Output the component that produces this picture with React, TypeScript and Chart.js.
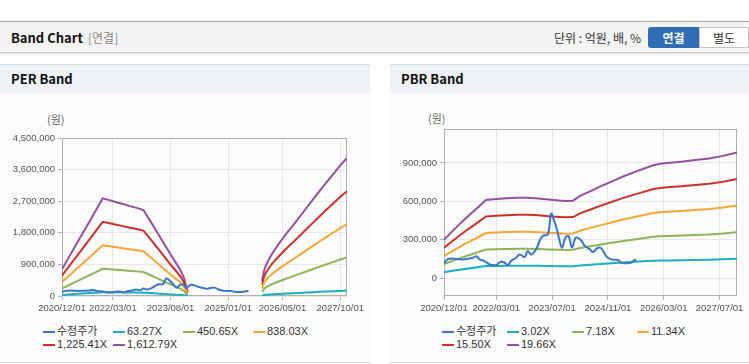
import React, { useEffect, useRef } from "react";
import { Chart, registerables } from "chart.js";
Chart.register(...registerables);

// ---------- data ----------
const perLegend = ["수정주가", "63.27X", "450.65X", "838.03X", "1,225.41X", "1,612.79X"];
const pbrLegend = ["수정주가", "3.02X", "7.18X", "11.34X", "15.50X", "19.66X"];
const seriesColors = ["#3a78c6", "#19b0c3", "#8cb656", "#f5a733", "#d0302b", "#93519f"];

// x positions are months counted from 2020/12/01
const perXTickMonths = [0, 15, 32, 49, 65, 82];
const perXTickLabels = ["2020/12/01", "2022/03/01", "2023/08/01", "2025/01/01", "2026/05/01", "2027/10/01"];
const pbrXTickMonths = [0, 15, 31, 47, 63, 79];
const pbrXTickLabels = ["2020/12/01", "2022/03/01", "2023/07/01", "2024/11/01", "2026/03/01", "2027/07/01"];

const perYTicks = [0, 900000, 1800000, 2700000, 3600000, 4500000];
const pbrYTicks = [0, 300000, 600000, 900000];

// adjusted stock price (수정주가)
const priceMonths = [0, 1, 2.5, 5.5, 8.3, 9.3, 10.2, 11.6, 13.1, 15, 16, 17.3, 18.3, 19.2, 20.7, 21.7, 23.1, 24, 25, 26.4, 27.4, 28.3, 29.8, 30.7, 31.6, 32.6, 33.8, 34.8, 35.7, 36.7, 37.8, 39.3, 40.3, 41.8, 42.7, 44.1, 45.1, 46.5, 47.9, 49.9, 50.8, 53.2, 54.2, 55];
const adjustedPrice = [115000, 146000, 154000, 146000, 159000, 170000, 146000, 133000, 107000, 102000, 125000, 122000, 102000, 133000, 159000, 185000, 164000, 211000, 185000, 224000, 290000, 330000, 342000, 504000, 446000, 355000, 238000, 316000, 329000, 238000, 316000, 295000, 254000, 225000, 203000, 237000, 232000, 172000, 146000, 141000, 120000, 117000, 133000, 146000];

// PER bands
const perBandMonths = [0, 2, 4, 6, 8, 10, 12, 14, 16, 18, 20, 22, 24, 26, 28, 30, 32, 34, 35, 36, 37, 48, 59, 59.5, 60, 61, 62, 64, 66, 68, 70, 72, 74, 76, 78, 80, 82, 84];
const per63 = [29800, 43200, 56500, 69400, 82400, 95700, 109100, 107100, 104700, 102800, 100400, 98500, 96100, 84000, 71400, 58800, 46300, 34500, 28200, 19600, 4700, null, 16500, 27500, 33300, 41200, 47900, 58800, 69000, 78500, 88300, 98100, 107900, 117700, 127100, 136500, 145900, 154200];
const per450 = [212300, 307300, 402300, 494500, 586700, 681700, 776700, 762800, 746000, 732000, 715300, 701300, 684500, 597900, 508500, 419100, 329700, 245900, 201200, 139700, 33500, null, 117300, 195600, 237500, 293400, 340900, 419100, 491700, 558800, 628700, 698500, 768400, 838200, 905300, 972300, 1039400, 1098000];
const per838 = [394900, 571600, 748200, 919700, 1091200, 1267800, 1444500, 1418500, 1387300, 1361400, 1330200, 1304200, 1273000, 1111900, 945700, 779400, 613100, 457200, 374100, 259800, 62400, null, 218200, 363700, 441700, 545600, 633900, 779400, 914500, 1039200, 1169100, 1299000, 1428900, 1558800, 1683500, 1808200, 1932900, 2042000];
const per1225 = [577400, 835800, 1094100, 1344800, 1595600, 1853900, 2112200, 2074300, 2028700, 1990700, 1945100, 1907100, 1861500, 1626000, 1382800, 1139700, 896600, 668600, 547100, 379900, 91200, null, 319100, 531900, 645800, 797800, 927000, 1139700, 1337200, 1519600, 1709600, 1899500, 2089500, 2279400, 2461800, 2644100, 2826500, 2986000];
const per1612 = [760000, 1100000, 1440000, 1770000, 2100000, 2440000, 2780000, 2730000, 2670000, 2620000, 2560000, 2510000, 2450000, 2140000, 1820000, 1500000, 1180000, 880000, 720000, 500000, 120000, null, 420000, 700000, 850000, 1050000, 1220000, 1500000, 1760000, 2000000, 2250000, 2500000, 2750000, 3000000, 3240000, 3480000, 3720000, 3930000];

// PBR bands
const pbrBandMonths = [0, 2, 4, 6, 8, 10, 12, 15, 18, 21, 24, 27, 30, 33, 35, 37, 39, 42, 45, 48, 51, 54, 57, 60, 62, 64, 68, 72, 76, 80, 84];
const pbr302 = [46100, 54500, 63000, 71000, 78300, 86000, 93700, 94900, 95700, 96300, 96300, 95500, 94300, 93100, 92500, 92900, 98600, 104400, 110300, 115800, 121300, 126300, 130900, 135500, 137200, 138200, 139800, 141600, 143600, 146700, 150800];
const pbr718 = [109600, 129600, 149700, 168700, 186300, 204500, 222800, 225700, 227500, 229000, 229000, 227200, 224200, 221300, 219900, 220900, 234500, 248300, 262200, 275400, 288500, 300200, 311200, 322100, 326100, 328700, 332300, 336700, 341500, 348800, 358600];
const pbr1134 = [173000, 204800, 236500, 266500, 294200, 323000, 351800, 356500, 359300, 361600, 361600, 358800, 354200, 349500, 347200, 349000, 370300, 392200, 414100, 434900, 455700, 474100, 491400, 508700, 515100, 519100, 524900, 531800, 539300, 550800, 566400];
const pbr1550 = [236500, 279900, 323200, 364200, 402100, 441500, 480900, 487200, 491200, 494300, 494300, 490400, 484100, 477800, 474600, 477000, 506200, 536100, 566100, 594500, 622800, 648100, 671700, 695400, 704000, 709600, 717400, 726900, 737100, 752900, 774200];
const pbr1966 = [300000, 355000, 410000, 462000, 510000, 560000, 610000, 618000, 623000, 627000, 627000, 622000, 614000, 606000, 602000, 605000, 642000, 680000, 718000, 754000, 790000, 822000, 852000, 882000, 893000, 900000, 910000, 922000, 935000, 955000, 982000];

// ---------- helpers ----------
const TICK_FONT = '"Liberation Sans", Arial, sans-serif';
const UI_FONT = '"Noto Sans CJK KR", "Noto Sans", sans-serif';
const LEGEND_FONT = '"Liberation Sans", "Noto Sans CJK KR", sans-serif';

const fmt = (v: number) => v.toLocaleString("en-US");

const boxPlugin = {
  id: "plotBox",
  beforeDatasetsDraw(chart: any) {
    const { ctx, chartArea: a } = chart;
    ctx.save();
    ctx.strokeStyle = "#b0b0b0";
    ctx.lineWidth = 1;
    ctx.strokeRect(Math.round(a.left) + 0.5, Math.round(a.top) + 0.5, Math.round(a.right - a.left) - 1, Math.round(a.bottom - a.top) - 1);
    ctx.restore();
  },
};

type S = { label: string; color: string; months: number[]; values: (number | null)[]; tension: number };

function BandCanvas(props: {
  width: number; height: number; yWidth: number; padTop: number; padRight: number;
  xTicks: number[]; xLabels: string[]; yMin: number; yMax: number; yTicks: number[]; series: S[];
}) {
  const ref = useRef<HTMLCanvasElement>(null);
  useEffect(() => {
    const p = props;
    const chart = new Chart(ref.current as HTMLCanvasElement, {
      type: "line",
      data: {
        datasets: p.series.map((s) => ({
          label: s.label,
          data: s.months.map((m, i) => ({ x: m, y: s.values[i] })),
          borderColor: s.color,
          backgroundColor: s.color,
          borderWidth: 2,
          pointRadius: 0,
          tension: s.tension,
          spanGaps: false,
          fill: false,
        })),
      },
      options: {
        responsive: false,
        animation: false,
        events: [],
        layout: { padding: { left: 0, right: p.padRight, top: p.padTop, bottom: 0 }, autoPadding: false },
        plugins: { legend: { display: false }, tooltip: { enabled: false } },
        scales: {
          x: {
            type: "linear",
            min: 0,
            max: 84,
            afterBuildTicks: (sc: any) => { sc.ticks = p.xTicks.map((v) => ({ value: v })); },
            afterFit: (sc: any) => { sc.height = 25; },
            ticks: {
              autoSkip: false, maxRotation: 0, padding: 3, color: "#555",
              font: { family: TICK_FONT, size: 9.5 },
              callback: (_v: any, i: number) => p.xLabels[i],
            },
            grid: { color: "#e6e6e6", tickColor: "#b0b0b0", tickLength: 4 },
            border: { display: false },
          },
          y: {
            type: "linear",
            min: p.yMin,
            max: p.yMax,
            afterBuildTicks: (sc: any) => { sc.ticks = p.yTicks.map((v) => ({ value: v })); },
            afterFit: (sc: any) => { sc.width = p.yWidth; },
            ticks: {
              autoSkip: false, padding: 3, color: "#555",
              font: { family: TICK_FONT, size: 9.5 },
              callback: (_v: any, i: number) => fmt(p.yTicks[i]),
            },
            grid: { color: "#e6e6e6", tickColor: "#b0b0b0", tickLength: 4 },
            border: { display: false },
          },
        },
      },
      plugins: [boxPlugin],
    } as any);
    return () => chart.destroy();
  }, []);
  return <canvas ref={ref} width={props.width} height={props.height}
    style={{ position: "absolute", left: 0, top: 36, width: props.width, height: props.height }} />;
}

function Legend({ labels, left, colW }: { labels: string[]; left: number; colW: number }) {
  return (
    <>
      {labels.map((l, i) => {
        const row = Math.floor(i / 4);
        const col = i % 4;
        return (
          <div key={l} style={{ position: "absolute", left: left + col * colW, top: 260 + row * 13, height: 13, lineHeight: "13px", display: "flex", alignItems: "center", whiteSpace: "nowrap", fontFamily: LEGEND_FONT, fontSize: 11, color: "#333" }}>
            <span style={{ display: "inline-block", width: 12, height: 2, background: seriesColors[i], marginRight: 2 }} />
            <span>{l}</span>
          </div>
        );
      })}
    </>
  );
}

function Panel(props: { left: number; width: number; title: string; children: any }) {
  return (
    <div style={{ position: "absolute", left: props.left, top: 64, width: props.width, height: 297, background: "#fcfcfc", borderTop: "1px solid #dcdcdc", borderBottom: "1px solid #dcdcdc" }}>
      <div style={{ position: "absolute", left: 0, top: 0, width: props.width, height: 28, background: "#eef2f7", lineHeight: "28px", paddingLeft: 11, boxSizing: "border-box", fontFamily: UI_FONT, fontWeight: 700, fontSize: 13, color: "#111" }}>
        {props.title}
      </div>
      {props.children}
    </div>
  );
}

function makeSeries(labels: string[], bandMonths: number[], bands: (number | null)[][]): S[] {
  const out: S[] = [{ label: labels[0], color: seriesColors[0], months: priceMonths, values: adjustedPrice, tension: 0.35 }];
  bands.forEach((b, i) => out.push({ label: labels[i + 1], color: seriesColors[i + 1], months: bandMonths, values: b, tension: 0 }));
  return out;
}

export default function App() {
  const perSeries = makeSeries(perLegend, perBandMonths, [per63, per450, per838, per1225, per1612]);
  const pbrSeries = makeSeries(pbrLegend, pbrBandMonths, [pbr302, pbr718, pbr1134, pbr1550, pbr1966]);
  return (
    <div style={{ position: "absolute", left: 0, top: 0, width: 749, height: 364, background: "#fff", overflow: "hidden" }}>
      {/* header */}
      <div style={{ position: "absolute", left: 0, top: 21, width: 749, height: 30, background: "#f4f4f4", borderTop: "1px solid #a8a8a8", borderBottom: "1px solid #c8c8c8", boxShadow: "0 1px 3px rgba(0,0,0,0.15)" }}>
        <span style={{ position: "absolute", left: 11, top: 0, lineHeight: "32px", fontFamily: UI_FONT, fontWeight: 700, fontSize: 13, color: "#111" }}>Band Chart</span>
        <span style={{ position: "absolute", left: 88, top: 0, lineHeight: "32px", fontFamily: UI_FONT, fontSize: 12, color: "#888" }}>[연결]</span>
        <span style={{ position: "absolute", right: 108, top: 0, lineHeight: "32px", fontFamily: UI_FONT, fontSize: 12, color: "#333" }}>단위 : 억원, 배, %</span>
        <div style={{ position: "absolute", left: 648, top: 5, width: 51, height: 21, background: "#2f6db4", borderRadius: "3px 0 0 3px", color: "#fff", fontFamily: UI_FONT, fontWeight: 700, fontSize: 12, lineHeight: "21px", textAlign: "center" }}>연결</div>
        <div style={{ position: "absolute", left: 699, top: 5, width: 50, height: 21, boxSizing: "border-box", background: "#fff", border: "1px solid #c4c4c4", color: "#333", fontFamily: UI_FONT, fontSize: 12, lineHeight: "19px", textAlign: "center" }}>별도</div>
      </div>

      <Panel left={0} width={370} title="PER Band">
        <div style={{ position: "absolute", left: 47, top: 46, fontFamily: UI_FONT, fontSize: 11, color: "#666", lineHeight: "16px" }}>(원)</div>
        <BandCanvas width={370} height={220} yWidth={62} padTop={37} padRight={23}
          xTicks={perXTickMonths} xLabels={perXTickLabels} yMin={0} yMax={4500000} yTicks={perYTicks} series={perSeries} />
        <Legend labels={perLegend} left={43} colW={70} />
      </Panel>

      <Panel left={390} width={359} title="PBR Band">
        <div style={{ position: "absolute", left: 38, top: 45, fontFamily: UI_FONT, fontSize: 11, color: "#666", lineHeight: "16px" }}>(원)</div>
        <BandCanvas width={359} height={220} yWidth={54} padTop={28} padRight={12}
          xTicks={pbrXTickMonths} xLabels={pbrXTickLabels} yMin={-140000} yMax={1165000} yTicks={pbrYTicks} series={pbrSeries} />
        <Legend labels={pbrLegend} left={52} colW={65} />
      </Panel>
    </div>
  );
}
